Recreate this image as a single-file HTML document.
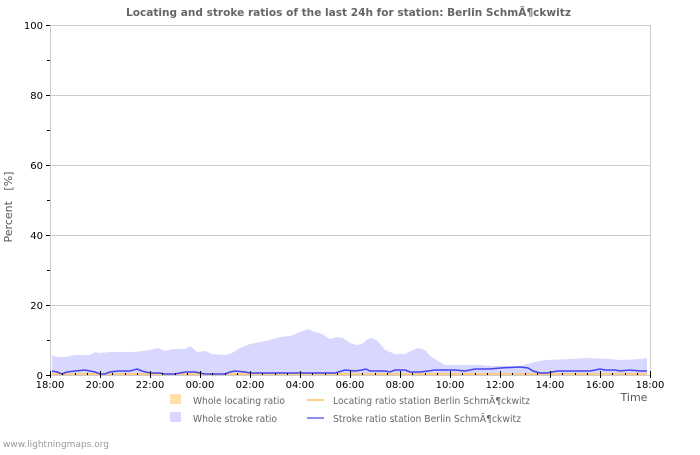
<!DOCTYPE html>
<html><head><style>
body{margin:0;background:#fff;width:700px;height:450px;overflow:hidden}
svg text{font-family:"DejaVu Sans","Liberation Sans",sans-serif}
</style></head><body>
<svg width="700" height="450" viewBox="0 0 700 450" xmlns="http://www.w3.org/2000/svg">
<rect width="700" height="450" fill="#fff"/>
<text x="126" y="16" font-size="11" font-weight="bold" fill="#666" textLength="445" lengthAdjust="spacingAndGlyphs">Locating and stroke ratios of the last 24h for station: Berlin SchmÃ¶ckwitz</text>
<g stroke="#ccc" stroke-width="1">
<line x1="50" y1="95.5" x2="650" y2="95.5"/>
<line x1="50" y1="165.5" x2="650" y2="165.5"/>
<line x1="50" y1="235.5" x2="650" y2="235.5"/>
<line x1="50" y1="305.5" x2="650" y2="305.5"/>
<rect x="50.5" y="25.5" width="600" height="350" fill="none"/>
</g>
<polygon fill="#d8d8ff" points="52,375 52,355 57,357 65,357 75,355 90,355 95,352 100,353 110,352 135,352 150,350 158,348 165,351 172,349 185,349 190,346 197,352 205,351 212,354 225,355 232,353 240,348 250,344 260,342 270,340 280,337 290,336 300,332 308,329 315,332 322,334 330,339 337,337 343,338 350,343 357,345 362,344 368,339 372,338 378,341 385,350 395,354 405,354 413,350 418,348 425,350 430,356 440,362 445,365 480,365 490,366 520,366 535,362 545,360 570,359 585,358 610,359 620,360 640,359 647,358 647,375"/>
<polygon fill="#ffd8a8" points="52,375 52,373 647,373 647,375"/>
<polyline fill="none" stroke="#f8c060" stroke-width="1" points="52,374 647,374"/>
<polyline fill="none" stroke="#4444ee" stroke-width="1.5" points="52,371 57,372 62,374 67,372 75,371 85,370 90,371 95,372 100,374 105,374 110,372 118,371 130,371 137,369 142,371 150,373 160,373 165,374 175,374 185,372 195,372 200,373 205,374 225,374 230,372 235,371 245,372 250,373 300,373 335,373 345,370 355,371 362,370 366,369 370,371 385,371 390,372 395,370 405,370 410,372 420,372 428,371 435,370 455,370 465,371 475,369 490,369 500,368 520,367 528,368 533,371 540,373 547,373 552,372 558,371 590,371 600,369 605,370 615,370 620,371 630,370 640,371 647,371"/>
<g stroke="#000" stroke-width="1">
<line x1="46" y1="25.5" x2="50" y2="25.5"/><line x1="47" y1="60.5" x2="50" y2="60.5"/>
<line x1="46" y1="95.5" x2="50" y2="95.5"/><line x1="47" y1="130.5" x2="50" y2="130.5"/>
<line x1="46" y1="165.5" x2="50" y2="165.5"/><line x1="47" y1="200.5" x2="50" y2="200.5"/>
<line x1="46" y1="235.5" x2="50" y2="235.5"/><line x1="47" y1="270.5" x2="50" y2="270.5"/>
<line x1="46" y1="305.5" x2="50" y2="305.5"/><line x1="47" y1="340.5" x2="50" y2="340.5"/>
<line x1="46" y1="375.5" x2="50" y2="375.5"/>
</g>
<g stroke="#000" stroke-width="1">
<line x1="50.5" y1="371" x2="50.5" y2="378"/><line x1="100.5" y1="371" x2="100.5" y2="378"/>
<line x1="150.5" y1="371" x2="150.5" y2="378"/><line x1="200.5" y1="371" x2="200.5" y2="378"/>
<line x1="250.5" y1="371" x2="250.5" y2="378"/><line x1="300.5" y1="371" x2="300.5" y2="378"/>
<line x1="350.5" y1="371" x2="350.5" y2="378"/><line x1="400.5" y1="371" x2="400.5" y2="378"/>
<line x1="450.5" y1="371" x2="450.5" y2="378"/><line x1="500.5" y1="371" x2="500.5" y2="378"/>
<line x1="550.5" y1="371" x2="550.5" y2="378"/><line x1="600.5" y1="371" x2="600.5" y2="378"/>
<line x1="650.5" y1="371" x2="650.5" y2="378"/>
</g>
<g stroke="#000" stroke-width="1">
<line x1="62.5" y1="373" x2="62.5" y2="375"/><line x1="75.5" y1="373" x2="75.5" y2="375"/><line x1="87.5" y1="373" x2="87.5" y2="375"/>
<line x1="112.5" y1="373" x2="112.5" y2="375"/><line x1="125.5" y1="373" x2="125.5" y2="375"/><line x1="137.5" y1="373" x2="137.5" y2="375"/>
<line x1="162.5" y1="373" x2="162.5" y2="375"/><line x1="175.5" y1="373" x2="175.5" y2="375"/><line x1="187.5" y1="373" x2="187.5" y2="375"/>
<line x1="212.5" y1="373" x2="212.5" y2="375"/><line x1="225.5" y1="373" x2="225.5" y2="375"/><line x1="237.5" y1="373" x2="237.5" y2="375"/>
<line x1="262.5" y1="373" x2="262.5" y2="375"/><line x1="275.5" y1="373" x2="275.5" y2="375"/><line x1="287.5" y1="373" x2="287.5" y2="375"/>
<line x1="312.5" y1="373" x2="312.5" y2="375"/><line x1="325.5" y1="373" x2="325.5" y2="375"/><line x1="337.5" y1="373" x2="337.5" y2="375"/>
<line x1="362.5" y1="373" x2="362.5" y2="375"/><line x1="375.5" y1="373" x2="375.5" y2="375"/><line x1="387.5" y1="373" x2="387.5" y2="375"/>
<line x1="412.5" y1="373" x2="412.5" y2="375"/><line x1="425.5" y1="373" x2="425.5" y2="375"/><line x1="437.5" y1="373" x2="437.5" y2="375"/>
<line x1="462.5" y1="373" x2="462.5" y2="375"/><line x1="475.5" y1="373" x2="475.5" y2="375"/><line x1="487.5" y1="373" x2="487.5" y2="375"/>
<line x1="512.5" y1="373" x2="512.5" y2="375"/><line x1="525.5" y1="373" x2="525.5" y2="375"/><line x1="537.5" y1="373" x2="537.5" y2="375"/>
<line x1="562.5" y1="373" x2="562.5" y2="375"/><line x1="575.5" y1="373" x2="575.5" y2="375"/><line x1="587.5" y1="373" x2="587.5" y2="375"/>
<line x1="612.5" y1="373" x2="612.5" y2="375"/><line x1="625.5" y1="373" x2="625.5" y2="375"/><line x1="637.5" y1="373" x2="637.5" y2="375"/>
</g>
<g font-size="10" fill="#000" text-anchor="end">
<text x="43" y="29">100</text><text x="43" y="99">80</text><text x="43" y="169">60</text>
<text x="43" y="239">40</text><text x="43" y="309">20</text><text x="43" y="379">0</text>
</g>
<g font-size="10" fill="#000" text-anchor="middle">
<text x="50" y="388">18:00</text><text x="100" y="388">20:00</text><text x="150" y="388">22:00</text>
<text x="200" y="388">00:00</text><text x="250" y="388">02:00</text><text x="300" y="388">04:00</text>
<text x="350" y="388">06:00</text><text x="400" y="388">08:00</text><text x="450" y="388">10:00</text>
<text x="500" y="388">12:00</text><text x="550" y="388">14:00</text><text x="600" y="388">16:00</text>
<text x="650" y="388">18:00</text>
</g>
<text x="634" y="401" font-size="11" fill="#555" text-anchor="middle">Time</text>
<text transform="translate(12,207) rotate(-90)" font-size="11" fill="#555" text-anchor="middle" xml:space="preserve">Percent   [%]</text>
<rect x="170" y="394" width="11" height="10" fill="#ffe0a8"/>
<text x="193" y="404" font-size="10" fill="#666" textLength="92" lengthAdjust="spacingAndGlyphs">Whole locating ratio</text>
<rect x="170" y="412" width="11" height="10" fill="#d8d8ff"/>
<text x="193" y="422" font-size="10" fill="#666" textLength="84" lengthAdjust="spacingAndGlyphs">Whole stroke ratio</text>
<line x1="307" y1="400" x2="324" y2="400" stroke="#f8c060" stroke-width="1.5"/>
<text x="333" y="404" font-size="10" fill="#666" textLength="197" lengthAdjust="spacingAndGlyphs">Locating ratio station Berlin SchmÃ¶ckwitz</text>
<line x1="307" y1="418" x2="324" y2="418" stroke="#6666ee" stroke-width="1.5"/>
<text x="333" y="422" font-size="10" fill="#666" textLength="188" lengthAdjust="spacingAndGlyphs">Stroke ratio station Berlin SchmÃ¶ckwitz</text>
<text x="3" y="447" font-size="9" fill="#999">www.lightningmaps.org</text>
</svg>
</body></html>
